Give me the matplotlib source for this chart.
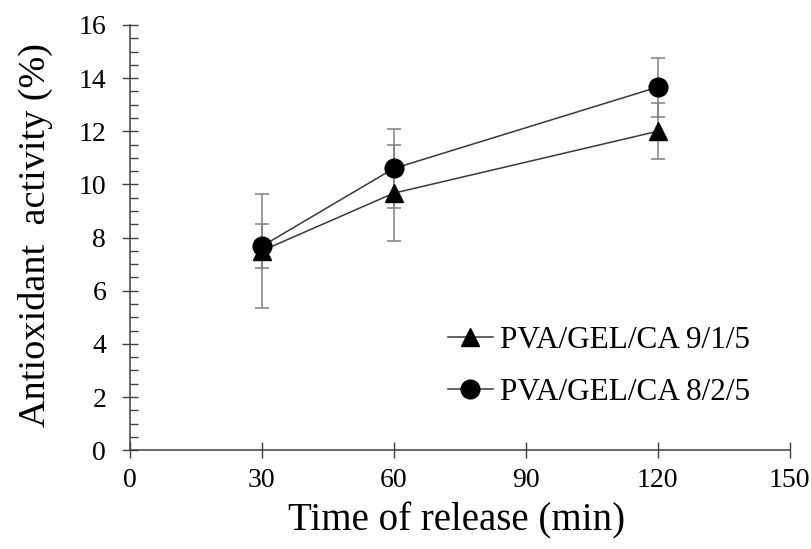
import matplotlib
matplotlib.use("Agg")
import matplotlib.pyplot as plt
from matplotlib.ticker import MultipleLocator

time_min = [30, 60, 120]
act_915 = [7.50, 9.67, 12.00]
err_915 = [2.14, 1.80, 1.05]
act_825 = [7.67, 10.60, 13.66]
err_825 = [0.83, 1.49, 1.11]
labels = ["PVA/GEL/CA 9/1/5", "PVA/GEL/CA 8/2/5"]
x_ticks = [0, 30, 60, 90, 120, 150]
y_ticks = [0, 2, 4, 6, 8, 10, 12, 14, 16]

plt.rcParams['font.family'] = ['Liberation Serif', 'DejaVu Serif']

fig = plt.figure(figsize=(8.11, 5.49), dpi=100)
ax = fig.add_axes([0.160, 0.180, 0.8135, 0.7745])

line_c = '#383838'
err_c = '#808080'

for y, e, m, lab in [(act_915, err_915, '^', labels[0]), (act_825, err_825, 'o', labels[1])]:
    ax.errorbar(time_min, y, yerr=e, fmt='none', ecolor=err_c, elinewidth=1.1,
                capsize=4.7, capthick=1.1, zorder=2)
    ax.plot(time_min, y, color=line_c, lw=1.1, marker=m, markersize=13.5,
            markerfacecolor='black', markeredgecolor='black', label=lab, zorder=3)

ax.set_xlim(0, 150)
ax.set_ylim(0, 16)
ax.set_xticks(x_ticks)
ax.set_yticks(y_ticks)
ax.yaxis.set_minor_locator(MultipleLocator(0.5))

for s in ['top', 'right']:
    ax.spines[s].set_visible(False)
for s in ['left', 'bottom']:
    ax.spines[s].set_color('#404040')
    ax.spines[s].set_linewidth(1.1)

ax.tick_params(axis='both', which='major', direction='inout', length=11, width=1.0,
               color='#404040', labelsize=20)
ax.tick_params(axis='y', which='major', pad=11.5)
ax.tick_params(axis='x', which='major', pad=7)
ax.tick_params(axis='y', which='minor', direction='in', length=6, width=1.0, color='#404040')

ax.set_xlabel("Time of release (min)", fontsize=28)
ax.xaxis.set_label_coords(0.496, -0.122)
ax.set_ylabel("Antioxidant  activity (%)", fontsize=27.5)
ax.yaxis.set_label_coords(-0.116, 0.506)

leg = ax.legend(loc='center left', bbox_to_anchor=(0.482, 0.197), frameon=False,
                fontsize=22.5, handlelength=1.44, handletextpad=0.22, labelspacing=0.75,
                borderaxespad=0, borderpad=0)

fig.savefig("out.png", dpi=100)
